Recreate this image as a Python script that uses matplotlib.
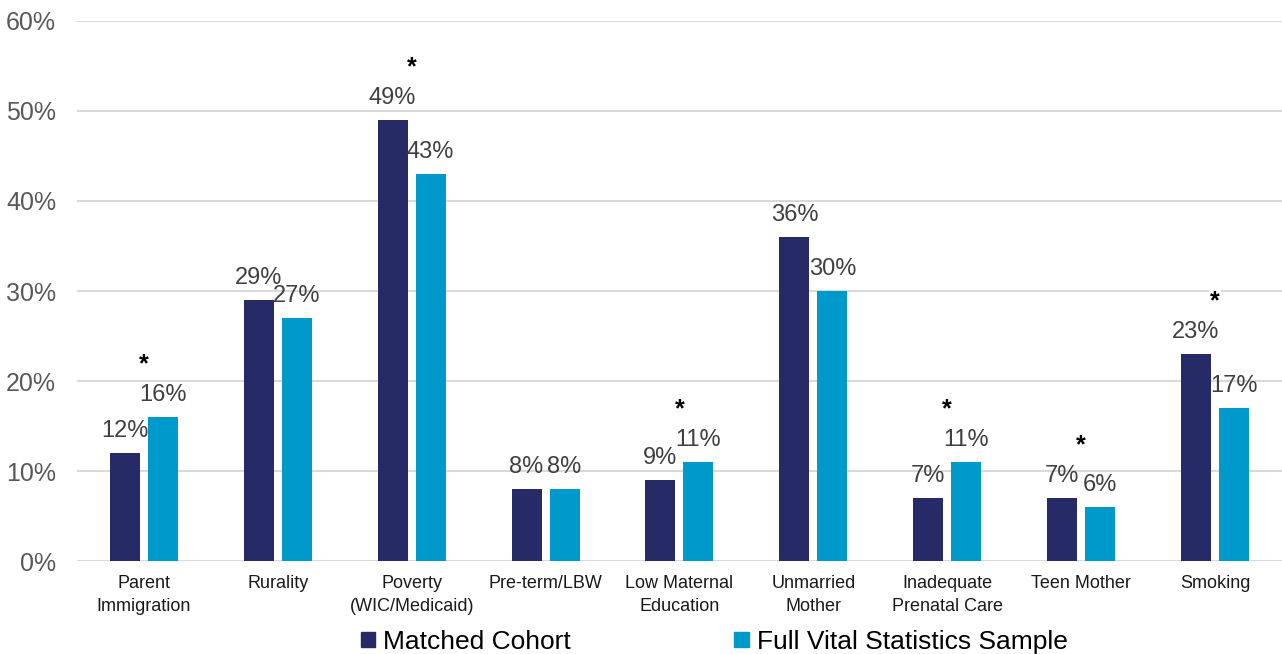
import numpy as np
import matplotlib.pyplot as plt
from matplotlib.patches import Patch

plt.rcParams['font.family'] = ['Liberation Sans', 'DejaVu Sans']

categories = ['Parent\nImmigration', 'Rurality', 'Poverty\n(WIC/Medicaid)', 'Pre-term/LBW',
              'Low Maternal\nEducation', 'Unmarried\nMother', 'Inadequate\nPrenatal Care',
              'Teen Mother', 'Smoking']
matched = [12, 29, 49, 8, 9, 36, 7, 7, 23]
full_sample = [16, 27, 43, 8, 11, 30, 11, 6, 17]
significant = [True, False, True, False, True, False, True, True, True]
y_ticks = [0, 10, 20, 30, 40, 50, 60]

NAVY = '#262A67'
BLUE = '#0099CC'
GRID = '#D9D9D9'

fig = plt.figure(figsize=(12.82, 6.54), dpi=100)
ax = fig.add_axes([0.06, 0.142, 0.94, 0.826])

x = np.arange(len(categories))
off = 0.142
w = 0.224
b1 = ax.bar(x - off, matched, w, color=NAVY, zorder=3)
b2 = ax.bar(x + off, full_sample, w, color=BLUE, zorder=3)

for bars, vals in ((b1, matched), (b2, full_sample)):
    for bar, v in zip(bars, vals):
        ax.annotate(f'{v}%', (bar.get_x() + bar.get_width() / 2, v),
                    xytext=(0, 11.5), textcoords='offset points',
                    ha='center', va='baseline', fontsize=17, color='#404040', zorder=4)

# significance markers above each flagged pair
for i, sig in enumerate(significant):
    if sig:
        top = max(matched[i], full_sample[i])
        ax.annotate('*', (x[i], top), xytext=(0, 33), textcoords='offset points',
                    ha='center', va='baseline', fontsize=18, fontweight='bold',
                    color='black', zorder=5,
                    bbox=dict(facecolor='white', edgecolor='none', pad=1))

ax.set_xlim(-0.5, len(categories) - 0.5)
ax.set_ylim(0, 60)
ax.set_yticks(y_ticks)
ax.set_yticklabels([f'{t}%' for t in y_ticks], fontsize=18, color='#595959')
ax.yaxis.grid(True, color=GRID, linewidth=1.5, zorder=0)
ax.set_axisbelow(True)
ax.set_xticks(x)
ax.set_xticklabels(categories, fontsize=13, color='#1a1a1a', linespacing=1.45)
ax.tick_params(axis='both', length=0)
ax.tick_params(axis='y', pad=15)
ax.tick_params(axis='x', pad=10)
for s in ax.spines.values():
    s.set_visible(False)

handles = [Patch(color=NAVY), Patch(color=BLUE)]
fig.legend(handles, ['Matched Cohort', 'Full Vital Statistics Sample'],
           loc='lower center', bbox_to_anchor=(0.557, -0.036), ncol=2, frameon=False,
           fontsize=19, handlelength=0.55, handleheight=0.55, handletextpad=0.3,
           columnspacing=6.2)

fig.savefig('out.png', dpi=100)
